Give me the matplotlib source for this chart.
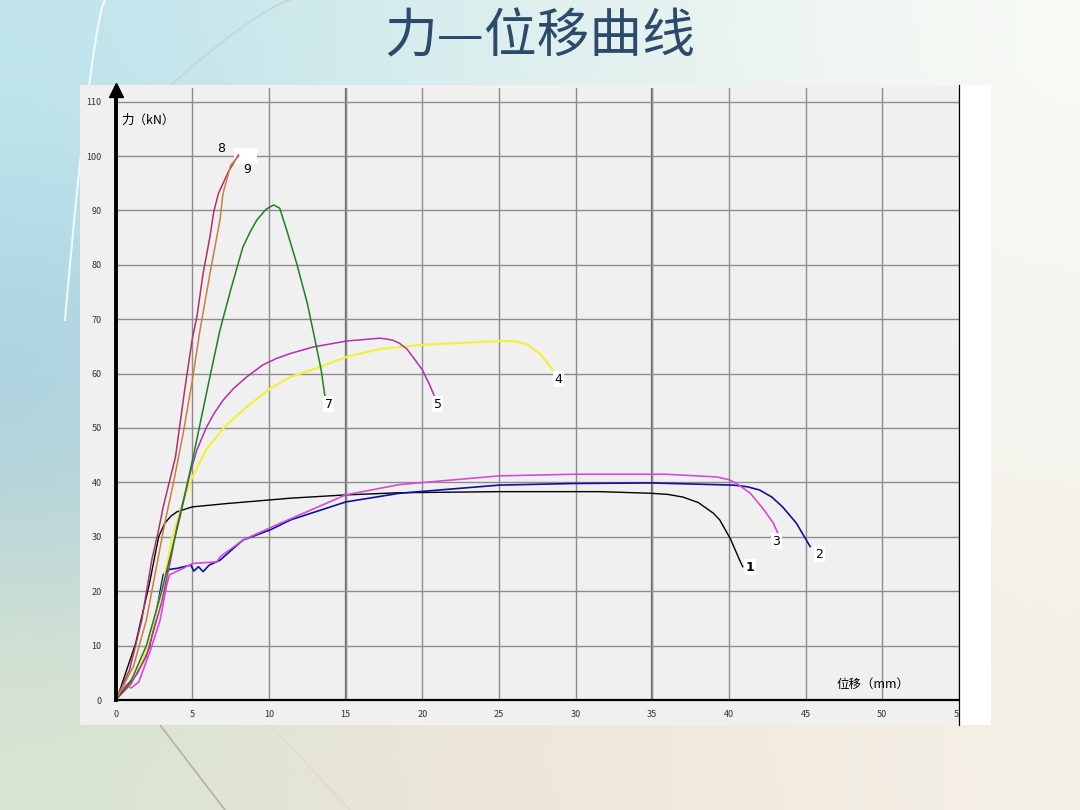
import numpy as np
import matplotlib
matplotlib.use("Agg")
import matplotlib.pyplot as plt
from matplotlib.patches import Rectangle
from matplotlib.lines import Line2D

plt.rcParams['font.family'] = ['Noto Sans CJK SC', 'DejaVu Sans']

# force-displacement curves (mm, kN)
x1 = [0, 0.2, 1.3, 2.2, 2.8, 3.2, 3.6, 4.0, 5.0, 7.2, 11.4, 15, 18.5, 25, 31.6, 34.9, 36.0, 37.0, 38.0, 38.5, 39.0, 39.4, 40.1, 40.7, 40.9]
y1 = [0, 1.2, 10.4, 21.4, 30.0, 32.5, 33.8, 34.6, 35.5, 36.1, 37.1, 37.7, 38.1, 38.3, 38.3, 38.0, 37.8, 37.3, 36.3, 35.3, 34.3, 33.1, 29.6, 25.7, 24.5]

x2 = [0, 0.3, 1.4, 2.2, 2.8, 3.1, 3.5, 4.0, 4.9, 5.1, 5.4, 5.7, 6.1, 6.8, 8.3, 10.1, 11.4, 15.0, 18.5, 25.0, 29.9, 34.9, 40.3, 41.2, 42.0, 42.8, 43.5, 44.4, 45.3]
y2 = [0, 1.2, 4.9, 9.8, 18.4, 23.0, 24.0, 24.2, 24.8, 23.7, 24.5, 23.6, 24.8, 25.7, 29.4, 31.3, 33.1, 36.4, 38.0, 39.5, 39.8, 39.9, 39.5, 39.2, 38.6, 37.3, 35.5, 32.5, 28.2]

x3 = [0, 0.3, 0.7, 1.0, 1.5, 2.2, 2.9, 3.3, 3.5, 4.4, 5.0, 6.6, 6.8, 8.3, 10.5, 15.0, 18.5, 25.0, 29.9, 35.9, 39.2, 40.0, 40.5, 41.4, 42.3, 42.9, 43.2]
y3 = [0, 1.5, 2.8, 2.2, 3.3, 8.6, 14.7, 20.8, 23.0, 24.2, 25.1, 25.4, 26.3, 29.4, 32.2, 37.7, 39.6, 41.2, 41.5, 41.5, 41.0, 40.5, 39.8, 38.0, 34.9, 32.5, 30.6]

x4 = [0, 1.0, 2.0, 3.0, 3.7, 4.3, 4.9, 5.9, 7.1, 8.55, 10.1, 11.4, 12.9, 15.1, 17.2, 20.0, 25.1, 26.1, 26.8, 27.2, 27.7, 28.1, 28.5]
y4 = [0, 3, 9, 20, 30, 35.5, 40.4, 46.0, 50.2, 53.9, 57.3, 59.4, 60.8, 63.1, 64.5, 65.3, 66.0, 65.9, 65.4, 64.6, 63.6, 62.2, 60.7]

x5 = [0, 1.0, 2.0, 3.0, 3.6, 4.0, 4.85, 5.3, 5.9, 6.4, 7.0, 7.7, 8.55, 9.6, 10.5, 11.4, 12.9, 15.1, 17.2, 17.6, 18.1, 18.5, 19.0, 19.4, 20.0, 20.5, 20.9]
y5 = [0, 3, 8, 18, 26, 31.9, 41.7, 46.0, 50.0, 52.6, 55.1, 57.3, 59.4, 61.6, 62.8, 63.7, 64.9, 66.0, 66.5, 66.4, 66.1, 65.6, 64.5, 63.0, 60.7, 57.8, 55.1]

x7 = [0, 1.0, 2.0, 3.0, 3.7, 4.2, 5.0, 6.1, 6.8, 7.5, 8.3, 8.8, 9.2, 9.8, 10.3, 10.7, 11.15, 11.8, 12.5, 13.0, 13.4, 13.65]
y7 = [0, 3.5, 10, 20, 28, 33.7, 44.0, 58.8, 68.0, 75.4, 83.3, 86.2, 88.2, 90.2, 91.0, 90.4, 86.4, 80.3, 72.9, 66.2, 60.7, 55.8]

x8 = [0, 0.9, 1.7, 2.35, 2.8, 3.1, 3.9, 4.5, 5.0, 5.3, 5.7, 6.15, 6.4, 6.7, 7.35, 8.0]
y8 = [0, 5.5, 14.7, 25.7, 31.3, 35.5, 44.7, 57, 66.5, 70.5, 78.4, 85.2, 89.8, 93.1, 97.1, 100.2]

x9 = [0, 1.15, 2.0, 2.7, 3.2, 3.8, 4.4, 5.0, 5.5, 6.15, 6.8, 7.0, 7.5, 8.0]
y9 = [0, 6.1, 14.7, 25.1, 32.5, 40.4, 49, 58.8, 68, 78.4, 88.2, 93.1, 98.3, 99.9]

curve_names = ['1', '2', '3', '4', '5', '7', '8', '9']
label_x = [41.4, 45.9, 43.1, 28.9, 21.0, 13.9, 6.87, 8.55]
label_y = [24.4, 26.8, 29.2, 59.0, 54.4, 54.4, 101.3, 97.6]

x_ticks = [0, 5, 10, 15, 20, 25, 30, 35, 40, 45, 50, 55]
y_ticks = [0, 10, 20, 30, 40, 50, 60, 70, 80, 90, 100, 110]

W, H = 1080, 810
fig = plt.figure(figsize=(10.8, 8.1), dpi=100)

# slide background
bg = fig.add_axes([0, 0, 1, 1], zorder=-5)
bg_cols = np.array([
    [[0.76, 0.90, 0.93], [0.84, 0.93, 0.93], [0.90, 0.95, 0.94], [0.97, 0.98, 0.96]],
    [[0.62, 0.79, 0.87], [0.89, 0.93, 0.91], [0.94, 0.94, 0.92], [0.96, 0.96, 0.94]],
    [[0.86, 0.90, 0.82], [0.93, 0.90, 0.84], [0.94, 0.91, 0.86], [0.96, 0.94, 0.90]],
])
bg.imshow(bg_cols, extent=[0, W, H, 0], aspect='auto', interpolation='bicubic')
bg.set_xlim(0, W)
bg.set_ylim(H, 0)
bg.axis('off')
arc_t = np.linspace(0, 1, 50)
bg.plot(105 - 40 * arc_t ** 0.7, 320 * arc_t, color='white', lw=1.5, alpha=0.8)
bg.plot(290 - 130 * arc_t ** 0.8, 95 * arc_t, color='#c8d4d4', lw=1.2)
bg.plot([160, 225], [725, 810], color='#b8b0a4', lw=1.2)
bg.plot([270, 350], [725, 810], color='#e2dace', lw=1.0)

# chart panel
fig.add_artist(Rectangle((80 / W, 1 - 725 / H), (957 - 80) / W, 640 / H,
                         transform=fig.transFigure, fc='#f0f0f0', ec='none', zorder=-1))

fig.text(0.5, 1 - 37 / H, '力—位移曲线', ha='center', va='center',
         fontsize=38, color='#2c4a6a')

ax = fig.add_axes([115.7 / W, 1 - 700 / H, (958.9 - 115.7) / W, (700 - 88) / H])
ax.set_facecolor('none')
ax.set_xlim(0, 55)
ax.set_ylim(0, 112.5)
ax.set_xticks(x_ticks)
ax.set_yticks(y_ticks)
ax.tick_params(length=0, labelsize=6.5, labelcolor='#333333')
ax.tick_params(axis='y', pad=10)
ax.tick_params(axis='x', pad=7)
ax.grid(True, color='#8c8c8c', lw=1.0)
for xv in [15, 35]:
    ax.axvline(xv, color='#666666', lw=1.6, zorder=0.5)
ax.set_axisbelow(True)
for s in ['top', 'right']:
    ax.spines[s].set_visible(False)
ax.spines['left'].set_linewidth(2.8)
ax.spines['bottom'].set_linewidth(1.6)
ax.plot([0], [112.2], marker='^', ms=10, color='black', clip_on=False)

ax.plot(x1, y1, color='black', lw=1.0)
ax.plot(x2, y2, color='#1010a0', lw=1.2)
ax.plot(x3, y3, color='#d44cd4', lw=1.2)
ax.plot(x4, y4, color='#f0f040', lw=1.6)
ax.plot(x5, y5, color='#b030b0', lw=1.1)
ax.plot(x7, y7, color='#1e801e', lw=1.1)
ax.plot(x8, y8, color='#b03070', lw=1.1)
ax.plot(x9, y9, color='#c8803a', lw=1.1)

for name, lx, ly in zip(curve_names, label_x, label_y):
    if name in ('8', '9'):
        ax.text(lx, ly, name, fontsize=9, ha='center', va='center', family='DejaVu Sans')
    else:
        ax.text(lx, ly, name, fontsize=9, ha='center', va='center', family='DejaVu Sans',
                fontweight='bold' if name == '1' else 'normal',
                bbox=dict(fc='white', ec='none', pad=1.2))
ax.add_patch(Rectangle((7.7, 98.6), 1.5, 2.8, fc='white', ec='none', zorder=1.5))

ax.text(0.4, 106.6, '力（kN）', fontsize=9, ha='left', va='center')
ax.text(47.0, 2.8, '位移（mm）', fontsize=9, ha='left', va='center')

# right edge of the pasted chart
fig.add_artist(Rectangle((959.5 / W, 1 - 725 / H), (991 - 959.5) / W, 640 / H,
                         transform=fig.transFigure, fc='white', ec='none', zorder=2))
fig.add_artist(Line2D([958.5 / W, 958.5 / W], [1 - 725 / H, 1 - 85 / H],
                      transform=fig.transFigure, color='black', lw=0.9, zorder=3))

fig.savefig('out.png', dpi=100)
